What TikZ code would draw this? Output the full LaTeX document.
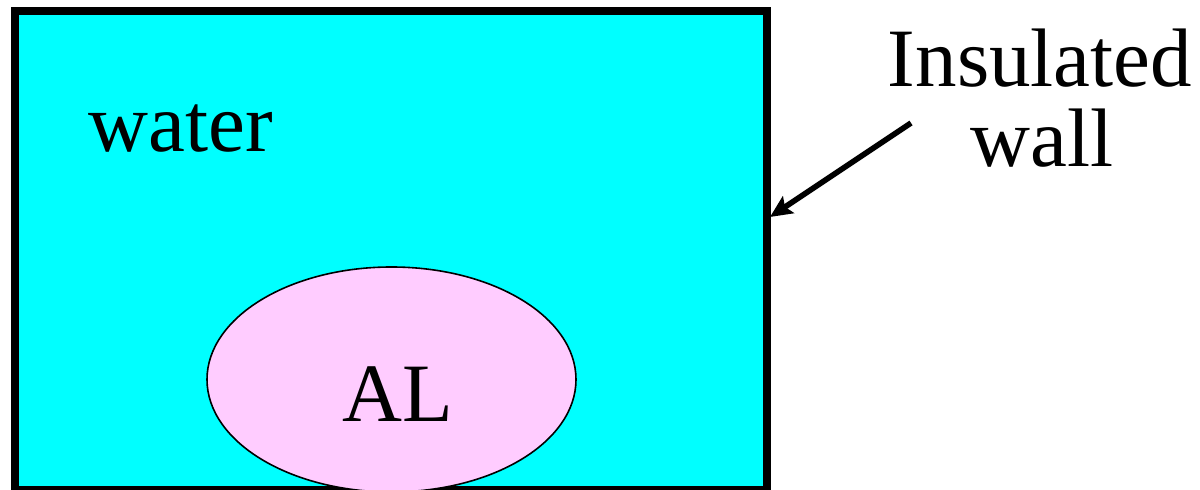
\documentclass[tikz,border=0pt]{standalone}
\usepackage{fontspec}
\setmainfont{Liberation Serif}
\usetikzlibrary{shapes.geometric,arrows.meta}
\definecolor{water}{HTML}{00FFFF}
\definecolor{alpink}{HTML}{FFCCFF}
\tikzset{
  lbl/.style={anchor=base,inner sep=0pt,font=\fontsize{41.5pt}{48pt}\selectfont},
  wallbox/.style={draw=black,line width=4pt,fill=water},
  blob/.style={ellipse,draw=black,line width=0.8pt,fill=alpink,inner sep=0pt,minimum width=184.5pt,minimum height=112.5pt},
  pointer/.style={line width=2.8pt,-{Stealth[length=11pt,width=10pt,inset=2pt]}}
}
\begin{document}
\begin{tikzpicture}[x=0.5pt,y=-0.5pt]
\useasboundingbox (0,0) rectangle (1200,490);
\draw[wallbox] (15,11) rectangle (767,490.5);
\node[blob] (al) at (391.5,379.5) {};
\node[lbl] (altext) at (398,422) {AL};
\node[lbl] (water) at (181,152) {water};
\node[lbl] (ins) at (1040,87) {Insulated};
\node[lbl] (wall) at (1042,167) {wall};
\coordinate (tail) at (911,123);
\coordinate (tip) at (770,217);
\draw[pointer] (tail) -- (tip);
\end{tikzpicture}
\end{document}
